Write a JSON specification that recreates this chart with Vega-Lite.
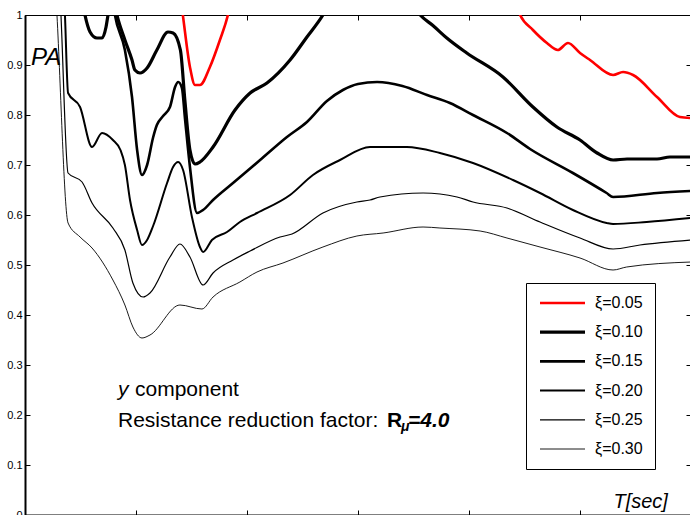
{
  "$schema": "https://vega.github.io/schema/vega-lite/v6.json",
  "width": 666,
  "height": 500,
  "autosize": {"type": "none"},
  "padding": {"left": 25, "top": 15, "right": 0, "bottom": 0},
  "background": "white",
  "config": {
    "font": "Liberation Sans",
    "view": {"stroke": "black", "strokeWidth": 1},
    "axis": {"grid": false, "title": null, "domainColor": "black", "tickColor": "black", "labelColor": "black", "labelFont": "Liberation Sans", "labelFontSize": 11, "tickSize": -5, "tickWidth": 1}
  },
  "datasets": {
    "curves": [
      {"T": 0.60, "PA": 1.4, "xi": "ξ=0.05"},
      {"T": 0.711, "PA": 1.0, "xi": "ξ=0.05"},
      {"T": 0.743, "PA": 0.896, "xi": "ξ=0.05"},
      {"T": 0.766, "PA": 0.86, "xi": "ξ=0.05"},
      {"T": 0.788, "PA": 0.86, "xi": "ξ=0.05"},
      {"T": 0.833, "PA": 0.896, "xi": "ξ=0.05"},
      {"T": 0.878, "PA": 0.95, "xi": "ξ=0.05"},
      {"T": 0.914, "PA": 1.0, "xi": "ξ=0.05"},
      {"T": 1.0, "PA": 1.25, "xi": "ξ=0.05"},
      {"T": 2.1, "PA": 1.25, "xi": "ξ=0.05"},
      {"T": 2.23, "PA": 1.0, "xi": "ξ=0.05"},
      {"T": 2.288, "PA": 0.97, "xi": "ξ=0.05"},
      {"T": 2.351, "PA": 0.944, "xi": "ξ=0.05"},
      {"T": 2.40, "PA": 0.93, "xi": "ξ=0.05"},
      {"T": 2.446, "PA": 0.944, "xi": "ξ=0.05"},
      {"T": 2.5, "PA": 0.924, "xi": "ξ=0.05"},
      {"T": 2.545, "PA": 0.91, "xi": "ξ=0.05"},
      {"T": 2.649, "PA": 0.88, "xi": "ξ=0.05"},
      {"T": 2.694, "PA": 0.886, "xi": "ξ=0.05"},
      {"T": 2.739, "PA": 0.88, "xi": "ξ=0.05"},
      {"T": 2.847, "PA": 0.836, "xi": "ξ=0.05"},
      {"T": 2.95, "PA": 0.796, "xi": "ξ=0.05"},
      {"T": 3.0, "PA": 0.794, "xi": "ξ=0.05"},

      {"T": 0.20, "PA": 1.25, "xi": "ξ=0.10"},
      {"T": 0.27, "PA": 1.0, "xi": "ξ=0.10"},
      {"T": 0.293, "PA": 0.966, "xi": "ξ=0.10"},
      {"T": 0.324, "PA": 0.954, "xi": "ξ=0.10"},
      {"T": 0.347, "PA": 0.954, "xi": "ξ=0.10"},
      {"T": 0.365, "PA": 0.976, "xi": "ξ=0.10"},
      {"T": 0.374, "PA": 1.0, "xi": "ξ=0.10"},
      {"T": 0.394, "PA": 1.04, "xi": "ξ=0.10"},
      {"T": 0.414, "PA": 1.0, "xi": "ξ=0.10"},
      {"T": 0.45, "PA": 0.95, "xi": "ξ=0.10"},
      {"T": 0.482, "PA": 0.91, "xi": "ξ=0.10"},
      {"T": 0.495, "PA": 0.89, "xi": "ξ=0.10"},
      {"T": 0.518, "PA": 0.884, "xi": "ξ=0.10"},
      {"T": 0.55, "PA": 0.894, "xi": "ξ=0.10"},
      {"T": 0.594, "PA": 0.93, "xi": "ξ=0.10"},
      {"T": 0.644, "PA": 0.966, "xi": "ξ=0.10"},
      {"T": 0.667, "PA": 0.964, "xi": "ξ=0.10"},
      {"T": 0.70, "PA": 0.93, "xi": "ξ=0.10"},
      {"T": 0.72, "PA": 0.83, "xi": "ξ=0.10"},
      {"T": 0.743, "PA": 0.73, "xi": "ξ=0.10"},
      {"T": 0.766, "PA": 0.702, "xi": "ξ=0.10"},
      {"T": 0.788, "PA": 0.706, "xi": "ξ=0.10"},
      {"T": 0.847, "PA": 0.736, "xi": "ξ=0.10"},
      {"T": 0.946, "PA": 0.81, "xi": "ξ=0.10"},
      {"T": 1.014, "PA": 0.844, "xi": "ξ=0.10"},
      {"T": 1.09, "PA": 0.864, "xi": "ξ=0.10"},
      {"T": 1.194, "PA": 0.91, "xi": "ξ=0.10"},
      {"T": 1.27, "PA": 0.956, "xi": "ξ=0.10"},
      {"T": 1.342, "PA": 1.0, "xi": "ξ=0.10"},
      {"T": 1.45, "PA": 1.1, "xi": "ξ=0.10"},
      {"T": 1.65, "PA": 1.1, "xi": "ξ=0.10"},
      {"T": 1.78, "PA": 1.0, "xi": "ξ=0.10"},
      {"T": 1.84, "PA": 0.978, "xi": "ξ=0.10"},
      {"T": 1.9, "PA": 0.954, "xi": "ξ=0.10"},
      {"T": 1.99, "PA": 0.924, "xi": "ξ=0.10"},
      {"T": 2.153, "PA": 0.876, "xi": "ξ=0.10"},
      {"T": 2.288, "PA": 0.816, "xi": "ξ=0.10"},
      {"T": 2.396, "PA": 0.776, "xi": "ξ=0.10"},
      {"T": 2.5, "PA": 0.75, "xi": "ξ=0.10"},
      {"T": 2.577, "PA": 0.724, "xi": "ξ=0.10"},
      {"T": 2.649, "PA": 0.71, "xi": "ξ=0.10"},
      {"T": 2.712, "PA": 0.712, "xi": "ξ=0.10"},
      {"T": 2.847, "PA": 0.712, "xi": "ξ=0.10"},
      {"T": 2.905, "PA": 0.716, "xi": "ξ=0.10"},
      {"T": 3.0, "PA": 0.716, "xi": "ξ=0.10"},

      {"T": 0.25, "PA": 1.3, "xi": "ξ=0.15"},
      {"T": 0.38, "PA": 1.08, "xi": "ξ=0.15"},
      {"T": 0.405, "PA": 1.0, "xi": "ξ=0.15"},
      {"T": 0.45, "PA": 0.93, "xi": "ξ=0.15"},
      {"T": 0.482, "PA": 0.836, "xi": "ξ=0.15"},
      {"T": 0.505, "PA": 0.73, "xi": "ξ=0.15"},
      {"T": 0.527, "PA": 0.68, "xi": "ξ=0.15"},
      {"T": 0.55, "PA": 0.70, "xi": "ξ=0.15"},
      {"T": 0.577, "PA": 0.755, "xi": "ξ=0.15"},
      {"T": 0.594, "PA": 0.78, "xi": "ξ=0.15"},
      {"T": 0.622, "PA": 0.798, "xi": "ξ=0.15"},
      {"T": 0.653, "PA": 0.816, "xi": "ξ=0.15"},
      {"T": 0.676, "PA": 0.856, "xi": "ξ=0.15"},
      {"T": 0.69, "PA": 0.866, "xi": "ξ=0.15"},
      {"T": 0.707, "PA": 0.854, "xi": "ξ=0.15"},
      {"T": 0.72, "PA": 0.796, "xi": "ξ=0.15"},
      {"T": 0.743, "PA": 0.696, "xi": "ξ=0.15"},
      {"T": 0.775, "PA": 0.604, "xi": "ξ=0.15"},
      {"T": 0.802, "PA": 0.61, "xi": "ξ=0.15"},
      {"T": 0.847, "PA": 0.63, "xi": "ξ=0.15"},
      {"T": 0.937, "PA": 0.664, "xi": "ξ=0.15"},
      {"T": 1.059, "PA": 0.71, "xi": "ξ=0.15"},
      {"T": 1.18, "PA": 0.756, "xi": "ξ=0.15"},
      {"T": 1.27, "PA": 0.786, "xi": "ξ=0.15"},
      {"T": 1.36, "PA": 0.828, "xi": "ξ=0.15"},
      {"T": 1.432, "PA": 0.85, "xi": "ξ=0.15"},
      {"T": 1.50, "PA": 0.862, "xi": "ξ=0.15"},
      {"T": 1.586, "PA": 0.866, "xi": "ξ=0.15"},
      {"T": 1.70, "PA": 0.858, "xi": "ξ=0.15"},
      {"T": 1.811, "PA": 0.84, "xi": "ξ=0.15"},
      {"T": 1.914, "PA": 0.824, "xi": "ξ=0.15"},
      {"T": 2.018, "PA": 0.80, "xi": "ξ=0.15"},
      {"T": 2.171, "PA": 0.764, "xi": "ξ=0.15"},
      {"T": 2.275, "PA": 0.732, "xi": "ξ=0.15"},
      {"T": 2.468, "PA": 0.684, "xi": "ξ=0.15"},
      {"T": 2.62, "PA": 0.644, "xi": "ξ=0.15"},
      {"T": 2.649, "PA": 0.636, "xi": "ξ=0.15"},
      {"T": 2.847, "PA": 0.644, "xi": "ξ=0.15"},
      {"T": 3.0, "PA": 0.648, "xi": "ξ=0.15"},

      {"T": 0.15, "PA": 1.3, "xi": "ξ=0.20"},
      {"T": 0.18, "PA": 1.0, "xi": "ξ=0.20"},
      {"T": 0.194, "PA": 0.844, "xi": "ξ=0.20"},
      {"T": 0.248, "PA": 0.816, "xi": "ξ=0.20"},
      {"T": 0.302, "PA": 0.736, "xi": "ξ=0.20"},
      {"T": 0.347, "PA": 0.764, "xi": "ξ=0.20"},
      {"T": 0.396, "PA": 0.75, "xi": "ξ=0.20"},
      {"T": 0.43, "PA": 0.73, "xi": "ξ=0.20"},
      {"T": 0.45, "PA": 0.70, "xi": "ξ=0.20"},
      {"T": 0.473, "PA": 0.63, "xi": "ξ=0.20"},
      {"T": 0.505, "PA": 0.57, "xi": "ξ=0.20"},
      {"T": 0.527, "PA": 0.54, "xi": "ξ=0.20"},
      {"T": 0.55, "PA": 0.55, "xi": "ξ=0.20"},
      {"T": 0.577, "PA": 0.578, "xi": "ξ=0.20"},
      {"T": 0.64, "PA": 0.664, "xi": "ξ=0.20"},
      {"T": 0.667, "PA": 0.696, "xi": "ξ=0.20"},
      {"T": 0.69, "PA": 0.706, "xi": "ξ=0.20"},
      {"T": 0.712, "PA": 0.69, "xi": "ξ=0.20"},
      {"T": 0.752, "PA": 0.596, "xi": "ξ=0.20"},
      {"T": 0.788, "PA": 0.536, "xi": "ξ=0.20"},
      {"T": 0.802, "PA": 0.526, "xi": "ξ=0.20"},
      {"T": 0.842, "PA": 0.55, "xi": "ξ=0.20"},
      {"T": 0.91, "PA": 0.566, "xi": "ξ=0.20"},
      {"T": 0.968, "PA": 0.586, "xi": "ξ=0.20"},
      {"T": 1.045, "PA": 0.604, "xi": "ξ=0.20"},
      {"T": 1.194, "PA": 0.64, "xi": "ξ=0.20"},
      {"T": 1.297, "PA": 0.68, "xi": "ξ=0.20"},
      {"T": 1.419, "PA": 0.71, "xi": "ξ=0.20"},
      {"T": 1.554, "PA": 0.736, "xi": "ξ=0.20"},
      {"T": 1.72, "PA": 0.736, "xi": "ξ=0.20"},
      {"T": 1.869, "PA": 0.724, "xi": "ξ=0.20"},
      {"T": 2.018, "PA": 0.704, "xi": "ξ=0.20"},
      {"T": 2.198, "PA": 0.67, "xi": "ξ=0.20"},
      {"T": 2.32, "PA": 0.644, "xi": "ξ=0.20"},
      {"T": 2.468, "PA": 0.61, "xi": "ξ=0.20"},
      {"T": 2.62, "PA": 0.584, "xi": "ξ=0.20"},
      {"T": 2.649, "PA": 0.582, "xi": "ξ=0.20"},
      {"T": 2.80, "PA": 0.586, "xi": "ξ=0.20"},
      {"T": 3.0, "PA": 0.594, "xi": "ξ=0.20"},

      {"T": 0.13, "PA": 1.3, "xi": "ξ=0.25"},
      {"T": 0.162, "PA": 1.0, "xi": "ξ=0.25"},
      {"T": 0.194, "PA": 0.684, "xi": "ξ=0.25"},
      {"T": 0.257, "PA": 0.666, "xi": "ξ=0.25"},
      {"T": 0.302, "PA": 0.624, "xi": "ξ=0.25"},
      {"T": 0.396, "PA": 0.574, "xi": "ξ=0.25"},
      {"T": 0.45, "PA": 0.53, "xi": "ξ=0.25"},
      {"T": 0.486, "PA": 0.464, "xi": "ξ=0.25"},
      {"T": 0.532, "PA": 0.436, "xi": "ξ=0.25"},
      {"T": 0.563, "PA": 0.444, "xi": "ξ=0.25"},
      {"T": 0.653, "PA": 0.516, "xi": "ξ=0.25"},
      {"T": 0.698, "PA": 0.542, "xi": "ξ=0.25"},
      {"T": 0.743, "PA": 0.516, "xi": "ξ=0.25"},
      {"T": 0.802, "PA": 0.46, "xi": "ξ=0.25"},
      {"T": 0.847, "PA": 0.484, "xi": "ξ=0.25"},
      {"T": 0.937, "PA": 0.51, "xi": "ξ=0.25"},
      {"T": 1.014, "PA": 0.528, "xi": "ξ=0.25"},
      {"T": 1.149, "PA": 0.556, "xi": "ξ=0.25"},
      {"T": 1.203, "PA": 0.562, "xi": "ξ=0.25"},
      {"T": 1.342, "PA": 0.604, "xi": "ξ=0.25"},
      {"T": 1.495, "PA": 0.626, "xi": "ξ=0.25"},
      {"T": 1.554, "PA": 0.63, "xi": "ξ=0.25"},
      {"T": 1.599, "PA": 0.636, "xi": "ξ=0.25"},
      {"T": 1.793, "PA": 0.644, "xi": "ξ=0.25"},
      {"T": 1.946, "PA": 0.636, "xi": "ξ=0.25"},
      {"T": 2.018, "PA": 0.626, "xi": "ξ=0.25"},
      {"T": 2.171, "PA": 0.614, "xi": "ξ=0.25"},
      {"T": 2.32, "PA": 0.586, "xi": "ξ=0.25"},
      {"T": 2.5, "PA": 0.554, "xi": "ξ=0.25"},
      {"T": 2.649, "PA": 0.532, "xi": "ξ=0.25"},
      {"T": 2.77, "PA": 0.54, "xi": "ξ=0.25"},
      {"T": 3.0, "PA": 0.55, "xi": "ξ=0.25"},

      {"T": 0.12, "PA": 1.2, "xi": "ξ=0.30"},
      {"T": 0.144, "PA": 1.0, "xi": "ξ=0.30"},
      {"T": 0.194, "PA": 0.584, "xi": "ξ=0.30"},
      {"T": 0.248, "PA": 0.556, "xi": "ξ=0.30"},
      {"T": 0.302, "PA": 0.534, "xi": "ξ=0.30"},
      {"T": 0.396, "PA": 0.47, "xi": "ξ=0.30"},
      {"T": 0.45, "PA": 0.42, "xi": "ξ=0.30"},
      {"T": 0.486, "PA": 0.376, "xi": "ξ=0.30"},
      {"T": 0.527, "PA": 0.354, "xi": "ξ=0.30"},
      {"T": 0.563, "PA": 0.36, "xi": "ξ=0.30"},
      {"T": 0.698, "PA": 0.42, "xi": "ξ=0.30"},
      {"T": 0.797, "PA": 0.412, "xi": "ξ=0.30"},
      {"T": 0.847, "PA": 0.436, "xi": "ξ=0.30"},
      {"T": 0.968, "PA": 0.466, "xi": "ξ=0.30"},
      {"T": 1.045, "PA": 0.486, "xi": "ξ=0.30"},
      {"T": 1.162, "PA": 0.504, "xi": "ξ=0.30"},
      {"T": 1.342, "PA": 0.536, "xi": "ξ=0.30"},
      {"T": 1.495, "PA": 0.558, "xi": "ξ=0.30"},
      {"T": 1.613, "PA": 0.564, "xi": "ξ=0.30"},
      {"T": 1.793, "PA": 0.576, "xi": "ξ=0.30"},
      {"T": 1.869, "PA": 0.574, "xi": "ξ=0.30"},
      {"T": 2.05, "PA": 0.568, "xi": "ξ=0.30"},
      {"T": 2.171, "PA": 0.554, "xi": "ξ=0.30"},
      {"T": 2.32, "PA": 0.536, "xi": "ξ=0.30"},
      {"T": 2.5, "PA": 0.514, "xi": "ξ=0.30"},
      {"T": 2.649, "PA": 0.49, "xi": "ξ=0.30"},
      {"T": 2.71, "PA": 0.496, "xi": "ξ=0.30"},
      {"T": 3.0, "PA": 0.506, "xi": "ξ=0.30"}
    ]
  },
  "layer": [
    {
      "data": {"name": "curves"},
      "mark": {"type": "line", "interpolate": "monotone", "clip": true},
      "encoding": {
        "x": {"field": "T", "type": "quantitative", "scale": {"domain": [0, 3], "nice": false, "zero": false},
              "axis": {"orient": "bottom", "values": [0, 0.5, 1, 1.5, 2, 2.5, 3], "format": "~g", "domainWidth": 2, "labelPadding": 9}},
        "y": {"field": "PA", "type": "quantitative", "scale": {"domain": [0, 1], "nice": false},
              "axis": {"orient": "left", "values": [0, 0.1, 0.2, 0.3, 0.4, 0.5, 0.6, 0.7, 0.8, 0.9, 1], "format": "~g", "domainWidth": 2, "labelPadding": 8}},
        "color": {"field": "xi", "type": "nominal",
                  "scale": {"domain": ["ξ=0.05", "ξ=0.10", "ξ=0.15", "ξ=0.20", "ξ=0.25", "ξ=0.30"], "range": ["#ff0000", "#000000", "#000000", "#000000", "#000000", "#000000"]},
                  "legend": {"title": null, "orient": "none", "legendX": 501, "legendY": 268, "strokeColor": "black", "fillColor": "white", "padding": 12, "symbolType": "stroke", "symbolSize": 2025, "clipHeight": 16, "rowPadding": 13.2, "labelFontSize": 16, "labelOffset": 8, "labelColor": "black", "labelFont": "Liberation Sans"}},
        "strokeWidth": {"field": "xi", "type": "nominal",
                  "scale": {"type": "ordinal", "domain": ["ξ=0.05", "ξ=0.10", "ξ=0.15", "ξ=0.20", "ξ=0.25", "ξ=0.30"], "range": [2.6, 3.2, 2.6, 2, 1.2, 0.9]},
                  "legend": {"title": null, "orient": "none", "legendX": 501, "legendY": 268, "strokeColor": "black", "fillColor": "white", "padding": 12, "symbolType": "stroke", "symbolSize": 2025, "clipHeight": 16, "rowPadding": 13.2, "labelFontSize": 16, "labelOffset": 8, "labelColor": "black", "labelFont": "Liberation Sans"}}
      }
    },
    {
      "data": {"name": "curves"},
      "mark": {"type": "point", "opacity": 0},
      "encoding": {
        "x": {"field": "T", "type": "quantitative", "axis": {"orient": "top", "values": [0, 0.5, 1, 1.5, 2, 2.5, 3], "labels": false, "domain": false}},
        "y": {"field": "PA", "type": "quantitative", "axis": {"orient": "right", "values": [0, 0.1, 0.2, 0.3, 0.4, 0.5, 0.6, 0.7, 0.8, 0.9, 1], "labels": false, "domain": false}}
      }
    },
    {
      "data": {"values": [{"T": 0.027, "PA": 0.9, "label": "PA"}]},
      "mark": {"type": "text", "font": "Liberation Sans", "fontSize": 24, "fontStyle": "italic", "align": "left", "baseline": "alphabetic", "color": "black"},
      "encoding": {"x": {"field": "T", "type": "quantitative", "axis": null}, "y": {"field": "PA", "type": "quantitative", "axis": null}, "text": {"field": "label"}}
    },
    {
      "data": {"values": [{"T": 2.896, "PA": 0.014, "label": "T[sec]"}]},
      "mark": {"type": "text", "font": "Liberation Sans", "fontSize": 20, "fontStyle": "italic", "align": "right", "baseline": "alphabetic", "color": "black"},
      "encoding": {"x": {"field": "T", "type": "quantitative", "axis": null}, "y": {"field": "PA", "type": "quantitative", "axis": null}, "text": {"field": "label"}}
    },
    {
      "data": {"values": [{"T": 0.419, "PA": 0.238, "label": "y"}]},
      "mark": {"type": "text", "font": "Liberation Sans", "fontSize": 21, "fontStyle": "italic", "align": "left", "baseline": "alphabetic", "color": "black"},
      "encoding": {"x": {"field": "T", "type": "quantitative", "axis": null}, "y": {"field": "PA", "type": "quantitative", "axis": null}, "text": {"field": "label"}}
    },
    {
      "data": {"values": [{"T": 0.4955, "PA": 0.238, "label": "component"}, {"T": 0.419, "PA": 0.176, "label": "Resistance reduction factor:"}]},
      "mark": {"type": "text", "font": "Liberation Sans", "fontSize": 21, "align": "left", "baseline": "alphabetic", "color": "black"},
      "encoding": {"x": {"field": "T", "type": "quantitative", "axis": null}, "y": {"field": "PA", "type": "quantitative", "axis": null}, "text": {"field": "label"}}
    },
    {
      "data": {"values": [{"T": 1.631, "PA": 0.176, "label": "R"}]},
      "mark": {"type": "text", "font": "Liberation Sans", "fontSize": 21, "fontWeight": "bold", "align": "left", "baseline": "alphabetic", "color": "black"},
      "encoding": {"x": {"field": "T", "type": "quantitative", "axis": null}, "y": {"field": "PA", "type": "quantitative", "axis": null}, "text": {"field": "label"}}
    },
    {
      "data": {"values": [{"T": 1.694, "PA": 0.168, "label": "μ"}]},
      "mark": {"type": "text", "font": "Liberation Sans", "fontSize": 14, "fontWeight": "bold", "fontStyle": "italic", "align": "left", "baseline": "alphabetic", "color": "black"},
      "encoding": {"x": {"field": "T", "type": "quantitative", "axis": null}, "y": {"field": "PA", "type": "quantitative", "axis": null}, "text": {"field": "label"}}
    },
    {
      "data": {"values": [{"T": 1.725, "PA": 0.176, "label": "=4.0"}]},
      "mark": {"type": "text", "font": "Liberation Sans", "fontSize": 21, "fontWeight": "bold", "fontStyle": "italic", "align": "left", "baseline": "alphabetic", "color": "black"},
      "encoding": {"x": {"field": "T", "type": "quantitative", "axis": null}, "y": {"field": "PA", "type": "quantitative", "axis": null}, "text": {"field": "label"}}
    }
  ]
}
